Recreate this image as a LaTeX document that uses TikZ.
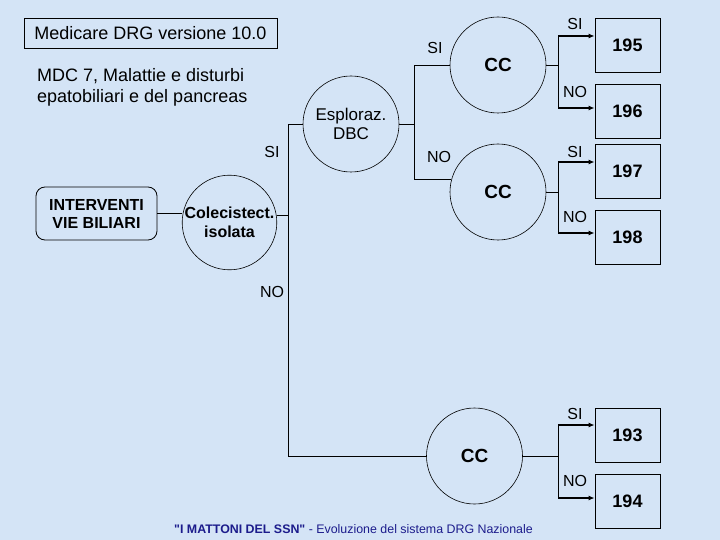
\documentclass[tikz,border=0pt]{standalone}
\usepackage{fontspec}
\setmainfont{Liberation Sans}
\newfontfamily\footfont{Liberation Sans}[Ligatures=TeXOff]
\usetikzlibrary{arrows.meta}
\definecolor{bgblue}{RGB}{212,228,246}
\definecolor{footblue}{RGB}{28,28,140}
\tikzset{
  ln/.style={line width=0.8pt, black},
  arr/.style={line width=1.6pt, -{Latex[length=6pt,width=5pt]}},
  circ/.style={circle, draw, line width=0.6pt, minimum size=96pt, inner sep=0pt, align=center},
  numbox/.style={rectangle, draw, line width=0.8pt, minimum width=65pt, minimum height=54pt, inner sep=0pt, font=\fontsize{18}{20}\selectfont\bfseries},
  lab/.style={font=\fontsize{16}{18}\selectfont, inner sep=0pt},
}
\begin{document}
\begin{tikzpicture}[x=1pt,y=-1pt]
\fill[bgblue] (0,0) rectangle (720,540);
\useasboundingbox (0,0) rectangle (720,540);

% header
\node[draw, line width=0.8pt, minimum width=253pt, minimum height=30pt, inner sep=0pt, font=\fontsize{18}{20}\selectfont] (title) at (150.5,33) {Medicare DRG versione 10.0};
\node[anchor=west, align=left, inner sep=0pt, font=\fontsize{18}{21}\selectfont] (mdc) at (37,87) {MDC 7, Malattie e disturbi\\epatobiliari e del pancreas};

% main nodes
\node[draw, rounded corners=9pt, line width=0.8pt, minimum width=121pt, minimum height=53pt, inner sep=0pt, align=center, font=\fontsize{16}{18}\selectfont\bfseries] (intv) at (96.5,213.5) {INTERVENTI\\VIE BILIARI};
\node[circ, minimum size=94pt, font=\fontsize{16}{19}\selectfont\bfseries] (cole) at (229.5,222.5) {Colecistect.\\isolata};
\node[circ, font=\fontsize{17}{19}\selectfont] (espl) at (351,124) {Esploraz.\\DBC};
\node[circ, font=\fontsize{19}{21}\selectfont\bfseries] (cc1) at (498,65) {CC};
\node[circ, font=\fontsize{19}{21}\selectfont\bfseries] (cc2) at (498,192) {CC};
\node[circ, font=\fontsize{19}{21}\selectfont\bfseries] (cc3) at (474.5,456) {CC};

\node[numbox] (b195) at (627.5,45) {195};
\node[numbox] (b196) at (627.5,111) {196};
\node[numbox] (b197) at (627.5,171) {197};
\node[numbox] (b198) at (627.5,237) {198};
\node[numbox] (b193) at (627.5,435) {193};
\node[numbox] (b194) at (627.5,501) {194};

% junction coordinates
\coordinate (j1) at (288,215);
\coordinate (j2) at (414,124);
\coordinate (s195) at (558,36);
\coordinate (s196) at (558,108);
\coordinate (s197) at (558,162);
\coordinate (s198) at (558,233);
\coordinate (s193) at (558,425);
\coordinate (s194) at (558,498);

% connectors
\draw[ln] (intv.east) -- (intv.east -| cole.west);
\draw[ln] (j1 -| cole.east) -- (j1);
\draw[ln] (espl.west) -- (espl.west -| j1) -- (j1 |- cc3.west) -- (cc3.west);
\draw[ln] (espl.east) -- (j2);
\draw[ln] (cc1.west) -- (cc1.west -| j2) -- (j2 |- cc2.165) -- (cc2.165);

\draw[ln] (cc1.east) -- (cc1.east -| s195);
\draw[ln] (s195) -- (s196);
\draw[arr] (s195) -- (s195 -| b195.west);
\draw[arr] (s196) -- (s196 -| b196.west);

\draw[ln] (cc2.east) -- (cc2.east -| s197);
\draw[ln] (s197) -- (s198);
\draw[arr] (s197) -- (s197 -| b197.west);
\draw[arr] (s198) -- (s198 -| b198.west);

\draw[ln] (cc3.east) -- (cc3.east -| s193);
\draw[ln] (s193) -- (s194);
\draw[arr] (s193) -- (s193 -| b193.west);
\draw[arr] (s194) -- (s194 -| b194.west);

% labels
\node[lab] (l1) at (272,152) {SI};
\node[lab] (l2) at (272,292) {NO};
\node[lab] (l3) at (435,48) {SI};
\node[lab] (l4) at (439,157) {NO};
\node[lab] (l5) at (575,24) {SI};
\node[lab] (l6) at (575,92) {NO};
\node[lab] (l7) at (575,152) {SI};
\node[lab] (l8) at (575,217) {NO};
\node[lab] (l9) at (575,414) {SI};
\node[lab] (l10) at (575,481) {NO};

% footer
\node[inner sep=0pt, text=footblue, font=\footfont\fontsize{12.4}{14}\selectfont] (foot) at (353.5,529) {\textbf{"I MATTONI DEL SSN"} - Evoluzione del sistema DRG Nazionale};
\end{tikzpicture}
\end{document}
